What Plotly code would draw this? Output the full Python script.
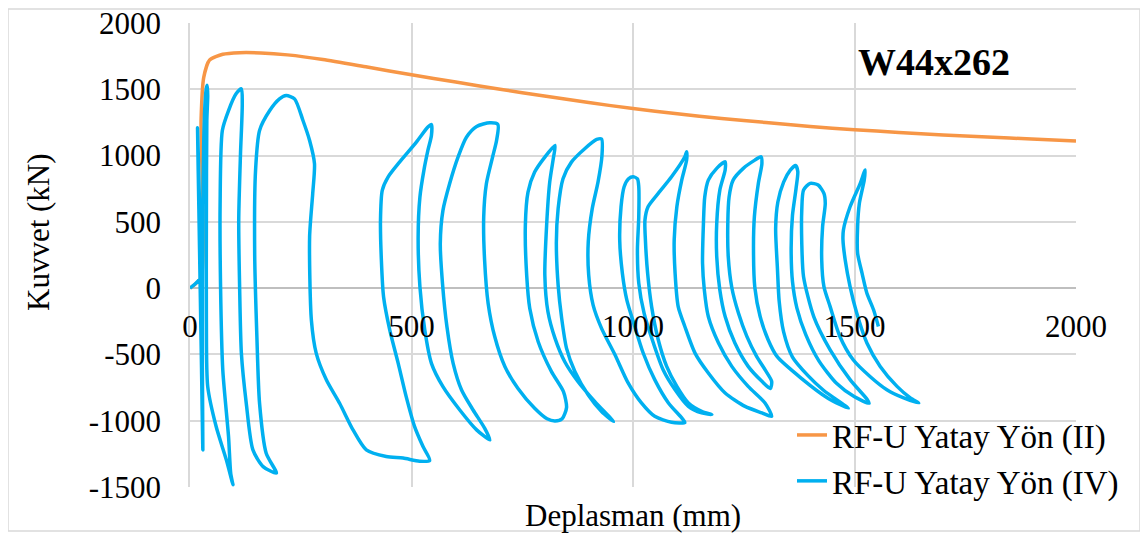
import plotly.graph_objects as go

# ---------------- data ----------------
x_ticks = [0, 500, 1000, 1500, 2000]
x_tick_text = ["0", "500", "1000", "1500", "2000"]
y_ticks = [-1500, -1000, -500, 0, 500, 1000, 1500, 2000]
y_tick_text = ["-1500", "-1000", "-500", "0", "500", "1000", "1500", "2000"]

# RF-U Yatay Yon (II) - monotonic envelope
disp_ii = [0, 25, 25, 31, 44, 74, 112, 160, 220, 300, 400, 500, 600, 700, 800, 900,
           1000, 1100, 1200, 1300, 1400, 1500, 1600, 1700, 1800, 1900, 2000]
force_ii = [0, 80, 1270, 1590, 1720, 1765, 1777, 1775, 1760, 1725, 1668, 1610, 1555, 1500,
            1450, 1400, 1355, 1315, 1280, 1250, 1220, 1195, 1175, 1155, 1140, 1125, 1110]

# RF-U Yatay Yon (IV) - cyclic response, traced branch by branch
disp_iv = [
    0, 25, 21, 17, 20, 23, 26, 29,
    28, 28, 29, 31, 34, 37, 39,
    40, 38, 37, 37, 40, 59, 82, 97,
    92, 87, 74, 69, 68, 73, 87, 104, 116,
    118, 114, 110, 112, 116, 127, 142, 165, 195,
    172, 157, 151, 146, 148, 157, 180, 202, 217,
    236, 255, 270, 281, 277, 270, 274, 285, 308, 338, 368, 398, 443, 481, 518, 541,
    526, 507, 488, 470, 451, 437, 432, 430, 434, 447, 473, 511, 537, 545,
    545, 537, 528, 519, 515, 519, 530, 545, 571, 609, 647, 677,
    665, 639, 613, 594, 580, 570, 565, 571, 586, 605, 624, 647, 677, 695,
    692, 683, 669, 663, 665, 673, 688, 711, 740, 778, 806, 824,
    840, 850, 843, 816, 786, 767, 760, 757, 763, 778, 801, 824,
    820, 812, 805, 801, 808, 824, 846, 876, 914, 956,
    929, 899, 869, 850, 839, 831, 827, 831, 842, 861, 891, 918, 929,
    930, 921, 908, 899, 900, 910, 929, 959, 989, 1019, 1049, 1087, 1117,
    1110, 1080, 1049, 1023, 1004, 986, 976, 970, 973, 980, 990, 1000,
    1010, 1013, 1013, 1010, 1013, 1025, 1046, 1068, 1095, 1125, 1155, 1178,
    1155, 1125, 1099, 1076, 1057, 1042, 1033, 1028, 1027, 1034, 1057, 1087, 1117, 1121,
    1121, 1110, 1099, 1093, 1095, 1102, 1117, 1140, 1170, 1208, 1253, 1291, 1313,
    1298, 1260, 1223, 1193, 1170, 1161, 1157, 1159, 1162, 1170, 1189, 1208,
    1208, 1196, 1189, 1189, 1196, 1208, 1230, 1260, 1291, 1310,
    1313, 1298, 1279, 1257, 1238, 1223, 1215, 1214, 1217, 1226, 1249, 1275, 1289,
    1291, 1283, 1274, 1272, 1275, 1287, 1305, 1325, 1380, 1440, 1486,
    1430, 1395, 1360, 1340, 1330, 1326, 1322, 1327, 1340, 1355, 1367,
    1372, 1368, 1360, 1357, 1360, 1370, 1390, 1420, 1460, 1500, 1533,
    1529, 1490, 1445, 1408, 1385, 1381, 1381, 1385, 1400, 1418, 1431,
    1434, 1428, 1426, 1431, 1445, 1467, 1497, 1535, 1573, 1611, 1645,
    1626, 1596, 1558, 1528, 1505, 1490, 1479, 1474, 1475, 1490, 1513, 1524,
    1522, 1511, 1507, 1507, 1517, 1528, 1543, 1554,
]
force_iv = [
    0, 87, 700, 1210, 600, 0, -600, -1220,
    -600, 0, 600, 1100, 1400, 1510, 1530,
    1450, 1265, 512, -241, -743, -1044, -1295, -1483,
    -1400, -1120, -617, 10, 638, 1190, 1340, 1466, 1504,
    1391, 1014, 512, 10, -492, -868, -1220, -1346, -1395,
    -1245, -868, -367, 261, 889, 1190, 1340, 1428, 1453,
    1428, 1265, 1114, 939, 713, 386, -241, -492, -693, -870, -1069, -1220, -1270, -1282, -1305, -1300,
    -1195, -1044, -818, -567, -316, -66, 211, 512, 738, 838, 951, 1102, 1215, 1235,
    1152, 1039, 889, 688, 386, 10, -316, -567, -743, -919, -1069, -1145,
    -1056, -919, -768, -567, -291, 35, 337, 587, 788, 989, 1139, 1220, 1248, 1235,
    1114, 989, 788, 537, 211, -115, -367, -593, -755, -906, -985, -1002,
    -985, -900, -781, -630, -404, -153, 98, 474, 725, 876, 989, 1077,
    977, 800, 474, 98, -178, -379, -555, -706, -856, -1006,
    -931, -806, -630, -454, -228, 23, 349, 600, 826, 951, 1052, 1122, 1125,
    1002, 800, 600, 349, 98, -128, -303, -500, -715, -866, -967, -1012, -1014,
    -979, -866, -690, -489, -289, -88, 113, 364, 614, 765, 825, 840,
    825, 765, 539, 288, 38, -188, -414, -615, -766, -891, -941, -954,
    -929, -866, -741, -590, -389, -139, 113, 364, 514, 614, 715, 840, 991, 1029,
    966, 815, 614, 364, 113, -139, -289, -490, -640, -791, -892, -941, -967,
    -866, -741, -590, -414, -214, -13, 188, 489, 690, 815, 904, 953,
    891, 740, 489, 238, -13, -214, -414, -590, -703, -757,
    -703, -615, -515, -364, -188, 5, 238, 489, 690, 815, 904, 966, 991,
    941, 791, 539, 288, 5, -214, -389, -515, -680, -830, -906,
    -770, -660, -520, -330, -100, 150, 450, 650, 800, 890, 925,
    880, 750, 550, 300, 50, -150, -350, -550, -720, -820, -868,
    -841, -690, -465, -214, 87, 339, 590, 740, 791, 778, 715,
    640, 464, 213, 12, -139, -364, -540, -666, -766, -828, -866,
    -828, -741, -590, -414, -188, 12, 213, 364, 439, 614, 791, 891,
    816, 640, 464, 264, 113, -38, -163, -289,
]

series_names = ["RF-U Yatay Yön (II)", "RF-U Yatay Yön (IV)"]
chart_label = "W44x262"
x_title = "Deplasman (mm)"
y_title = "Kuvvet (kN)"

# ---------------- figure ----------------
FONT = "Liberation Serif, Times New Roman, serif"
ORANGE = "#f79646"
BLUE = "#00b0f0"
GRID = "#d9d9d9"

fig = go.Figure()
fig.add_trace(go.Scatter(
    x=disp_ii, y=force_ii, mode="lines", name=series_names[0],
    legendgroup="a",
    line=dict(color=ORANGE, width=3.5, shape="spline", smoothing=0.6),
))
fig.add_trace(go.Scatter(
    x=disp_iv, y=force_iv, mode="lines", name=series_names[1],
    legendgroup="b",
    line=dict(color=BLUE, width=3.5, shape="spline", smoothing=0.7),
))

# the page body has an 8px margin: the figure is drawn 8px right/down of the window corner
OFF = 8
W, H = 1148 - OFF, 534 - OFF
ML, MT, MR, MB = 182, 15, 72, 47
pw, ph = W - ML - MR, H - MT - MB


def px_to_paper(px, py):
    """window pixel -> paper coordinate"""
    return (px - OFF - ML) / pw, (H - MB - (py - OFF)) / ph


fig.update_layout(
    width=W, height=H,
    margin=dict(l=ML, r=MR, t=MT, b=MB, pad=0, autoexpand=False),
    paper_bgcolor="white", plot_bgcolor="white",
    font=dict(family=FONT, size=31, color="black"),
    showlegend=True,
    legend=dict(
        x=px_to_paper(792, 0)[0], y=px_to_paper(0, 407)[1],
        xanchor="left", yanchor="top",
        bgcolor="rgba(255,255,255,0)",
        font=dict(family=FONT, size=33, color="black"),
        traceorder="grouped", tracegroupgap=0,
    ),
    xaxis=dict(
        range=[0, 2000], tickvals=x_ticks, ticktext=x_tick_text,
        showgrid=True, gridcolor=GRID, gridwidth=1.5,
        zeroline=False, showline=False, ticks="",
        anchor="free", position=1500 / 3500,
        ticklabelstandoff=17, automargin=False, ticklabeloverflow="allow",
        tickfont=dict(family=FONT, size=31, color="black"),
        fixedrange=True,
    ),
    yaxis=dict(
        range=[-1500, 2000.5], tickvals=y_ticks, ticktext=y_tick_text,
        showgrid=True, gridcolor=GRID, gridwidth=1.5,
        zeroline=True, zerolinecolor="#bfbfbf", zerolinewidth=1.5,
        showline=True, linecolor=GRID, linewidth=1.5, ticks="",
        ticklabelstandoff=21, automargin=False, ticklabeloverflow="allow",
        tickfont=dict(family=FONT, size=31, color="black"),
        fixedrange=True,
    ),
)

bx0, by0 = px_to_paper(8, 531)
bx1, by1 = px_to_paper(1140, 9)
fig.add_shape(type="rect", xref="paper", yref="paper",
              x0=bx0, y0=by0, x1=bx1, y1=by1,
              line=dict(color=GRID, width=1.5), fillcolor="rgba(0,0,0,0)", layer="below")

ax, ay = px_to_paper(633, 515)
fig.add_annotation(text=x_title, xref="paper", yref="paper", x=ax, y=ay,
                   xanchor="center", yanchor="middle", showarrow=False,
                   font=dict(family=FONT, size=31, color="black"))
ax, ay = px_to_paper(38, 232)
fig.add_annotation(text=y_title, xref="paper", yref="paper", x=ax, y=ay,
                   xanchor="center", yanchor="middle", showarrow=False, textangle=-90,
                   font=dict(family=FONT, size=31, color="black"))
ax, ay = px_to_paper(934, 62)
fig.add_annotation(text="<b>" + chart_label + "</b>", xref="paper", yref="paper", x=ax, y=ay,
                   xanchor="center", yanchor="middle", showarrow=False,
                   font=dict(family=FONT, size=38, color="black"))

fig.write_html("out.html", config={"displayModeBar": False})
